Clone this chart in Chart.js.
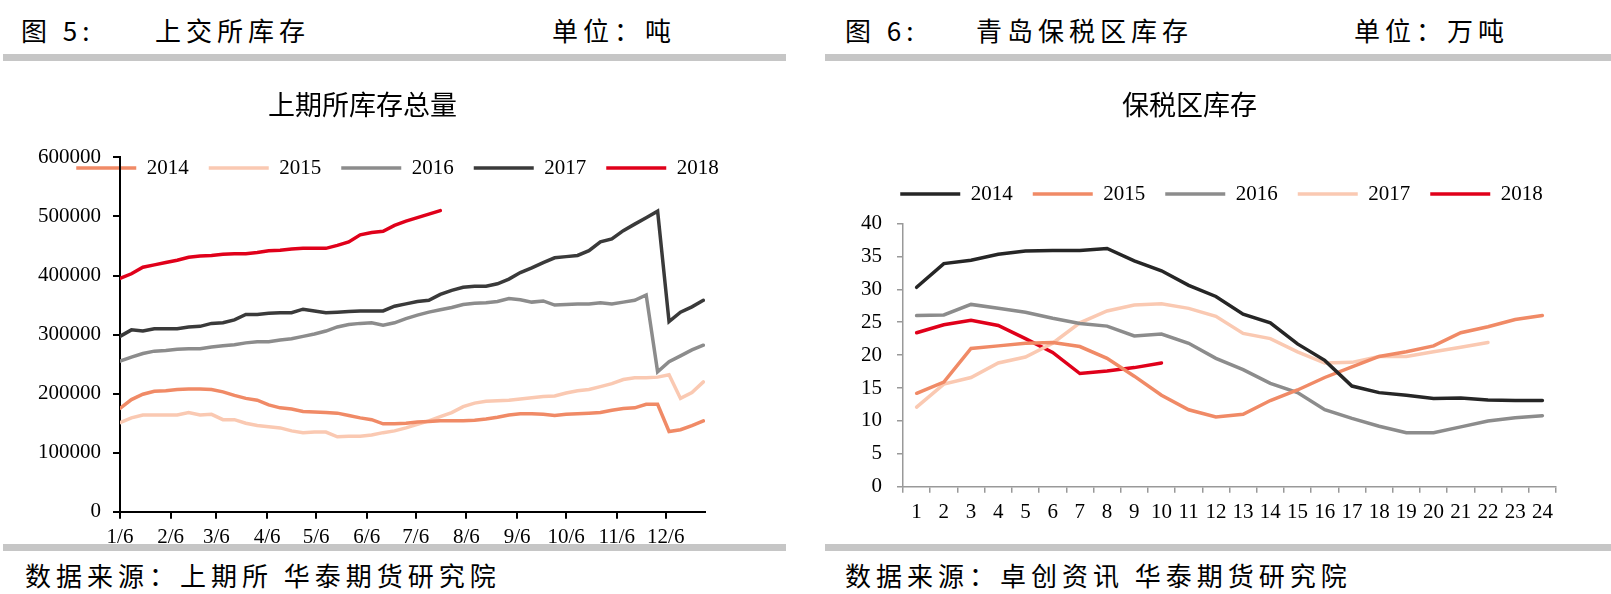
<!DOCTYPE html>
<html>
<head>
<meta charset="utf-8">
<script src="https://cdn.jsdelivr.net/npm/chart.js@4.4.0/dist/chart.umd.min.js"></script>
<style>
body { margin: 0; width: 1611px; height: 594px; background: #fff; position: relative; overflow: hidden; font-family: "Noto Sans CJK SC"; }
.t { position: absolute; font-size: 26px; line-height: 30px; letter-spacing: 5px; color: #000; white-space: nowrap; }
.bar { position: absolute; background: #c6c6c6; height: 7px; z-index: 2; }
canvas { position: absolute; }
</style>
</head>
<body>
<div class="t" style="left:21px; top:15px;">图 5:</div>
<div class="t" style="left:155px; top:15px;">上交所库存</div>
<div class="t" style="left:552px; top:15px;">单位：吨</div>
<div class="t" style="left:845px; top:15px;">图 6:</div>
<div class="t" style="left:976px; top:15px;">青岛保税区库存</div>
<div class="t" style="left:1354px; top:15px;">单位：万吨</div>

<div class="bar" style="left:3px; width:783px; top:54px;"></div>
<div class="bar" style="left:825px; width:786px; top:54px;"></div>

<canvas id="shfeChart" width="800" height="486" style="left:0px; top:70px;"></canvas>
<canvas id="bondChart" width="806" height="470" style="left:805px; top:70px;"></canvas>

<div class="bar" style="left:3px; width:783px; top:544px;"></div>
<div class="bar" style="left:825px; width:786px; top:544px;"></div>

<div class="t" style="left:25px; top:560px;">数据来源：上期所 华泰期货研究院</div>
<div class="t" style="left:845px; top:560px;">数据来源：卓创资讯 华泰期货研究院</div>

<script>
// 上期所库存 - weekly, days counted from 1/6
const weekDay = [0, 7, 14, 21, 28, 35, 42, 49, 56, 63, 70, 77, 84, 91, 98, 105, 112, 119, 126, 133,
  140, 147, 154, 161, 168, 175, 182, 189, 196, 203, 210, 217, 224, 231, 238, 245, 252, 259, 266, 273,
  280, 287, 294, 301, 308, 315, 322, 329, 336, 343, 350, 357];
const monthDay = [0, 31, 59, 90, 120, 151, 181, 212, 243, 273, 304, 334];
const monthLabel = ['1/6', '2/6', '3/6', '4/6', '5/6', '6/6', '7/6', '8/6', '9/6', '10/6', '11/6', '12/6'];

const shfe2014 = [175000, 190000, 199000, 204000, 205000, 207000, 208000, 208000, 207000, 203000,
  197000, 192000, 189000, 181000, 176000, 174000, 170000, 169000, 168000, 167000,
  163000, 159000, 156000, 149000, 149000, 150000, 152000, 153000, 154000, 154000,
  154000, 155000, 157000, 160000, 164000, 166000, 166000, 165000, 163000, 165000,
  166000, 167000, 168000, 172000, 175000, 176000, 182000, 182000, 136000, 139000,
  146000, 154000];
const shfe2015 = [151000, 159000, 164000, 164000, 164000, 164000, 168000, 164000, 165000, 156000,
  156000, 150000, 146000, 144000, 142000, 137000, 134000, 135000, 135000, 127000,
  128000, 128000, 130000, 134000, 137000, 142000, 148000, 154000, 161000, 168000,
  178000, 184000, 187000, 188000, 189000, 191000, 193000, 195000, 196000, 201000,
  205000, 207000, 212000, 217000, 224000, 227000, 227000, 228000, 232000, 192000,
  202000, 220000];
const shfe2016 = [255000, 262000, 268000, 272000, 273000, 275000, 276000, 276000, 279000, 281000,
  283000, 286000, 288000, 288000, 291000, 293000, 297000, 301000, 306000, 313000,
  317000, 319000, 320000, 316000, 320000, 327000, 333000, 338000, 342000, 346000,
  351000, 353000, 354000, 356000, 361000, 359000, 355000, 357000, 350000, 351000,
  352000, 352000, 354000, 352000, 355000, 358000, 367000, 237000, 254000, 264000,
  274000, 282000];
const shfe2017 = [297000, 308000, 306000, 310000, 310000, 310000, 313000, 314000, 319000, 320000,
  325000, 334000, 334000, 336000, 337000, 337000, 343000, 340000, 337000, 338000,
  339000, 340000, 340000, 340000, 348000, 352000, 356000, 358000, 368000, 375000,
  380000, 382000, 382000, 386000, 394000, 405000, 413000, 422000, 430000, 432000,
  434000, 442000, 457000, 462000, 476000, 487000, 498000, 509000, 322000, 338000,
  347000, 358000];
const shfe2018 = [395000, 403000, 414000, 418000, 422000, 426000, 431000, 433000, 434000, 436000,
  437000, 437000, 439000, 442000, 443000, 445000, 446000, 446000, 446000, 451000,
  457000, 469000, 473000, 475000, 485000, 492000, 498000, 504000, 510000];

// 保税区库存 (万吨)
const bondWeeks = ['1', '2', '3', '4', '5', '6', '7', '8', '9', '10', '11', '12',
  '13', '14', '15', '16', '17', '18', '19', '20', '21', '22', '23', '24'];
const bond2014 = [30.3, 33.9, 34.4, 35.3, 35.8, 35.9, 35.9, 36.2, 34.3, 32.8, 30.6, 28.9,
  26.2, 24.9, 21.7, 19.2, 15.3, 14.3, 13.9, 13.4, 13.5, 13.2, 13.1, 13.1];
const bond2015 = [14.2, 15.9, 21.0, 21.4, 21.8, 21.9, 21.3, 19.5, 16.8, 13.9, 11.7, 10.6,
  11.0, 13.1, 14.7, 16.6, 18.2, 19.8, 20.5, 21.4, 23.4, 24.3, 25.4, 26.0];
const bond2016 = [26.0, 26.1, 27.7, 27.1, 26.5, 25.6, 24.8, 24.4, 22.9, 23.2, 21.8, 19.5,
  17.8, 15.7, 14.3, 11.7, 10.4, 9.2, 8.2, 8.2, 9.1, 10.0, 10.5, 10.8];
const bond2017 = [12.1, 15.6, 16.6, 18.8, 19.7, 21.8, 24.9, 26.7, 27.6, 27.8, 27.1, 25.9,
  23.3, 22.5, 20.5, 18.8, 18.9, 19.8, 19.8, 20.5, 21.2, 21.9];
const bond2018 = [23.4, 24.6, 25.3, 24.5, 22.5, 20.4, 17.2, 17.6, 18.1, 18.8];

const SALMON = '#F08A66';
const PEACH = '#FAC9B2';
const GRAY = '#8C8C8C';
const RED = '#E0001A';

Chart.defaults.color = '#000';
const cjk = 'Noto Sans CJK SC';
const tickFont = { family: 'Liberation Serif', size: 21 };

// move the legend to a fixed place (it overlaps the plot top in the original)
// the legend clips to its own box, so give it back a full height after layout
const legendTop = {
  id: 'legendTop',
  afterLayout(chart, args, opts) {
    const lg = chart.legend;
    lg.top = opts.top;
    lg.bottom = opts.top + 50;
    lg.height = 50;
    lg.left += opts.dx || 0;
    lg.right += opts.dx || 0;
  }
};

function line(label, data, color) {
  return {
    label: label,
    data: data,
    borderColor: color,
    backgroundColor: color,
    borderWidth: 3.5,
    borderCapStyle: 'round',
    pointRadius: 0,
    tension: 0
  };
}

const legendOpts = {
  maxHeight: 10,
  labels: { usePointStyle: true, pointStyle: 'line', pointStyleWidth: 60, padding: 20, font: tickFont, color: '#000' }
};

const shfeChart = new Chart(document.getElementById('shfeChart'), {
  type: 'line',
  data: {
    labels: weekDay,
    datasets: [
      line('2014', shfe2014, SALMON),
      line('2015', shfe2015, PEACH),
      line('2016', shfe2016, GRAY),
      line('2017', shfe2017, '#3A3A3A'),
      line('2018', shfe2018, RED)
    ]
  },
  options: {
    responsive: false,
    animation: false,
    layout: { padding: { left: 20, right: 95, top: 0, bottom: 0 } },
    plugins: {
      title: {
        display: true,
        text: '上期所库存总量',
        color: '#000',
        font: { family: cjk, size: 27, weight: 'normal', lineHeight: 1.2 },
        padding: { top: 19, bottom: 26 }
      },
      legend: legendOpts,
      legendTop: { top: 67.5, dx: 35 },
      tooltip: { enabled: false }
    },
    scales: {
      x: {
        type: 'linear',
        min: 0,
        max: 358,
        afterBuildTicks: s => { s.ticks = monthDay.map(v => ({ value: v })); },
        ticks: {
          autoSkip: false, maxRotation: 0, padding: 6, font: tickFont, color: '#000',
          callback: v => monthLabel[monthDay.indexOf(v)]
        },
        grid: { drawOnChartArea: false, tickLength: 7, color: '#000', lineWidth: 2 },
        border: { color: '#000', width: 2 }
      },
      y: {
        min: 0,
        max: 600000,
        afterFit: s => { s.width = 100; },
        ticks: { stepSize: 100000, padding: 12, font: tickFont, color: '#000', callback: v => v },
        grid: { drawOnChartArea: false, tickLength: 7, color: '#000', lineWidth: 2 },
        border: { color: '#000', width: 2 }
      }
    }
  },
  plugins: [legendTop]
});

const bondChart = new Chart(document.getElementById('bondChart'), {
  type: 'line',
  data: {
    labels: bondWeeks,
    datasets: [
      line('2014', bond2014, '#262626'),
      line('2015', bond2015, SALMON),
      line('2016', bond2016, GRAY),
      line('2017', bond2017, PEACH),
      line('2018', bond2018, RED)
    ]
  },
  options: {
    responsive: false,
    animation: false,
    layout: { padding: { left: 18, right: 55, top: 0, bottom: 8 } },
    plugins: {
      title: {
        display: true,
        text: '保税区库存',
        color: '#000',
        font: { family: cjk, size: 27, weight: 'normal', lineHeight: 1.2 },
        padding: { top: 19, bottom: 92 }
      },
      legend: legendOpts,
      legendTop: { top: 93.5, dx: 32 },
      tooltip: { enabled: false }
    },
    scales: {
      x: {
        offset: true,
        ticks: { autoSkip: false, maxRotation: 0, padding: 7, font: tickFont, color: '#000' },
        grid: { offset: true, drawOnChartArea: false, tickLength: 6, color: '#999', lineWidth: 1.5 },
        border: { color: '#999', width: 1.5 }
      },
      y: {
        min: 0,
        max: 40,
        afterFit: s => { s.width = 80; },
        ticks: { stepSize: 5, padding: 15, font: tickFont, color: '#000' },
        grid: { drawOnChartArea: false, tickLength: 6, color: '#999', lineWidth: 1.5 },
        border: { color: '#999', width: 1.5 }
      }
    }
  },
  plugins: [legendTop]
});
</script>
</body>
</html>
